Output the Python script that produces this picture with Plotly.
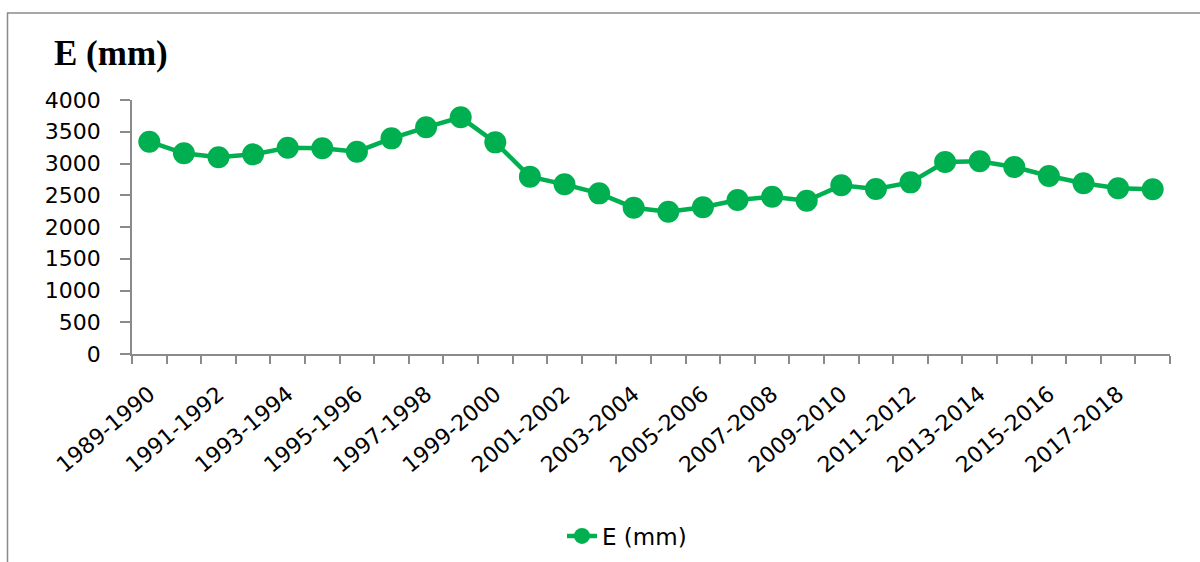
import plotly.graph_objects as go

categories = [f"{y}-{y+1}" for y in range(1989, 2019)]
e_values = [3343, 3160, 3097, 3144, 3249, 3239, 3186, 3396, 3570, 3727,
            3333, 2793, 2672, 2530, 2304, 2241, 2310, 2425, 2477, 2414,
            2656, 2598, 2703, 3024, 3034, 2945, 2803, 2688, 2609, 2593]
tick_labels = [c if i % 2 == 0 else "" for i, c in enumerate(categories)]
y_ticks = [0, 500, 1000, 1500, 2000, 2500, 3000, 3500, 4000]

GREEN = "#00B050"
GRAY = "#8a8a8a"
FONT = "DejaVu Sans"

W, H = 1200, 562
L, T = 132, 100
PW, PH = 1038, 254
R = W - L - PW
B = H - T - PH

def px(x):  # screen x -> paper
    return (x - L) / PW

def py(y):  # screen y -> paper
    return (T + PH - y) / PH

fig = go.Figure()
fig.add_trace(go.Scatter(
    x=categories, y=e_values, mode="lines+markers", name="E (mm)",
    line=dict(color=GREEN, width=4.5),
    marker=dict(color=GREEN, size=22),
))

fig.update_layout(
    width=W, height=H,
    margin=dict(l=L, r=R, t=T, b=B, autoexpand=False),
    paper_bgcolor="white", plot_bgcolor="white",
    showlegend=True,
    legend=dict(orientation="h", x=px(562), xanchor="left", y=py(536), yanchor="middle",
                font=dict(family=FONT, size=23, color="black"),
                bgcolor="rgba(0,0,0,0)"),
    xaxis=dict(
        type="category", tickmode="array", tickvals=categories, ticktext=tick_labels,
        tickson="boundaries", ticks="outside", ticklen=8, tickcolor=GRAY, tickwidth=1.5,
        showline=True, linecolor=GRAY, linewidth=1.5, showgrid=False, zeroline=False,
        tickangle=-40, tickfont=dict(family=FONT, size=22, color="black"),
        ticklabelstandoff=17, range=[-0.5, 29.5],
    ),
    yaxis=dict(
        range=[0, 4000], tickmode="array", tickvals=y_ticks,
        ticks="outside", ticklen=10, tickcolor=GRAY, tickwidth=1.5,
        showline=True, linecolor=GRAY, linewidth=1.5, showgrid=False, zeroline=False,
        tickfont=dict(family=FONT, size=22, color="black"), ticklabelstandoff=15,
    ),
    font=dict(family=FONT),
)

fig.add_annotation(text="<b>E (mm)</b>", xref="paper", yref="paper",
                   x=px(52), y=py(53), xanchor="left", yanchor="middle", showarrow=False,
                   font=dict(family="Liberation Serif", size=35, color="black"))

fig.add_shape(type="rect", xref="paper", yref="paper",
              x0=px(7.5), x1=px(1230), y0=py(600), y1=py(13),
              line=dict(color=GRAY, width=1.5), fillcolor="rgba(0,0,0,0)", layer="below")

fig.write_html("out.html", config={"displayModeBar": False},
               post_script="document.body.style.margin='0';")
